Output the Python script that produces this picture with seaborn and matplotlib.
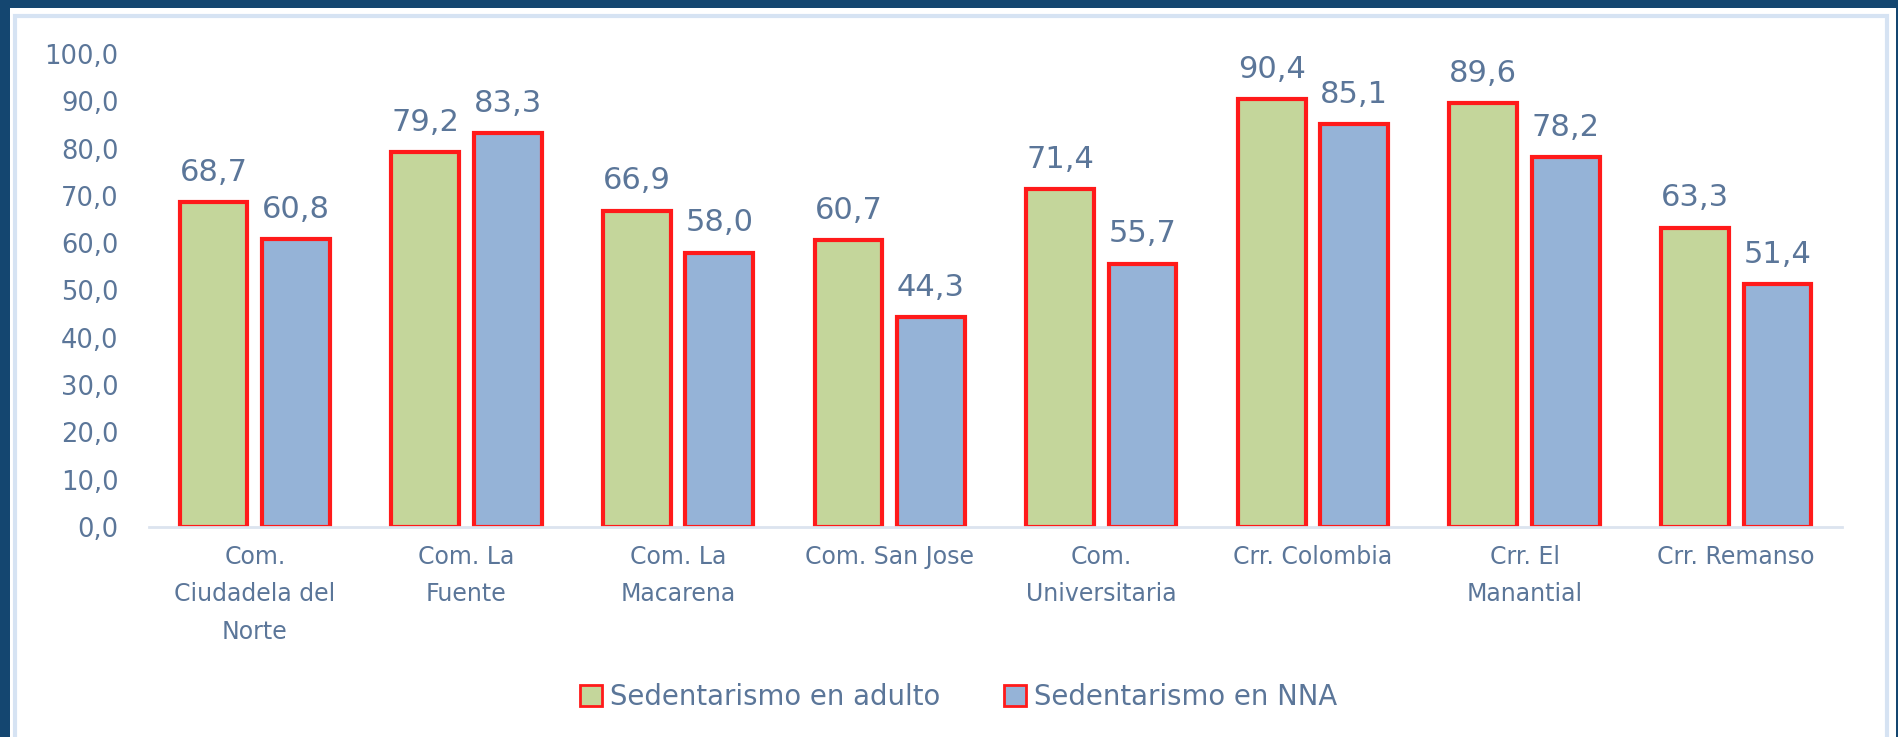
import pandas as pd
import seaborn as sns
from matplotlib import pyplot as plt
from matplotlib.patches import Rectangle, Patch
from matplotlib.ticker import FuncFormatter

# data
comunas = ["Com.\nCiudadela del\nNorte", "Com. La\nFuente", "Com. La\nMacarena", "Com. San Jose",
           "Com.\nUniversitaria", "Crr. Colombia", "Crr. El\nManantial", "Crr. Remanso"]
adulto = [68.7, 79.2, 66.9, 60.7, 71.4, 90.4, 89.6, 63.3]
nna = [60.8, 83.3, 58.0, 44.3, 55.7, 85.1, 78.2, 51.4]
series = ["Sedentarismo en adulto", "Sedentarismo en NNA"]
colores = ["#c4d69b", "#95b3d7"]
texto = "#5b7699"

df = pd.DataFrame({
    "zona": comunas * 2,
    "valor": adulto + nna,
    "serie": [series[0]] * len(comunas) + [series[1]] * len(comunas),
})

sns.set_style("white")
plt.rcParams['font.family'] = ['DejaVu Sans']

fig = plt.figure(figsize=(18.98, 7.37), dpi=100)
fig.patch.set_facecolor("#144670")
W, H = 1898, 737
# white panel plus the light inner frame
fig.patches.append(Rectangle((10 / W, 0), 1886 / W, 729 / H, transform=fig.transFigure,
                             facecolor="white", edgecolor="none", zorder=-3))
fig.patches.append(Rectangle((15 / W, -0.05), 1872 / W, (737 - 16) / H + 0.05, transform=fig.transFigure,
                             facecolor="none", edgecolor="#d6e3f3", linewidth=3, zorder=-2))

ax = fig.add_axes([149 / W, 1 - 527 / H, 1693 / W, (527 - 54) / H])
ax.set_facecolor("none")

sns.barplot(data=df, x="zona", y="valor", hue="serie", palette=colores, saturation=1,
            width=0.78, gap=0.18, edgecolor="#ff1a1a", linewidth=3.0, legend=False, ax=ax)

for cont in ax.containers:
    vals = [b.get_height() for b in cont]
    ax.bar_label(cont, labels=[f"{v:.1f}".replace(".", ",") for v in vals], padding=11,
                 fontsize=22, color=texto)

ax.set_ylim(0, 100)
ax.set_xlim(-0.5, len(comunas) - 0.5)
ax.set_yticks(range(0, 101, 10))
ax.yaxis.set_major_formatter(FuncFormatter(lambda v, p: f"{v:.1f}".replace(".", ",")))
ax.tick_params(axis="y", length=0, pad=22, labelsize=18.5, labelcolor=texto)
ax.tick_params(axis="x", length=0, pad=13, labelsize=17, labelcolor=texto)
for lab in ax.get_xticklabels():
    lab.set_linespacing(1.7)
ax.set_xlabel("")
ax.set_ylabel("")
for s in ["top", "right", "left"]:
    ax.spines[s].set_visible(False)
ax.spines["bottom"].set_color("#dce4ef")
ax.spines["bottom"].set_linewidth(2)

handles = [Patch(facecolor=c, edgecolor="#ff1a1a", linewidth=2) for c in colores]
fig.legend(handles, series, loc="center", bbox_to_anchor=(0.505, 1 - 697 / H), ncol=2, frameon=False,
           fontsize=19.8, labelcolor=texto, handlelength=0.8, handleheight=0.8, handletextpad=0.3,
           columnspacing=2.3)

fig.savefig("out.png", dpi=100, facecolor=fig.get_facecolor())
